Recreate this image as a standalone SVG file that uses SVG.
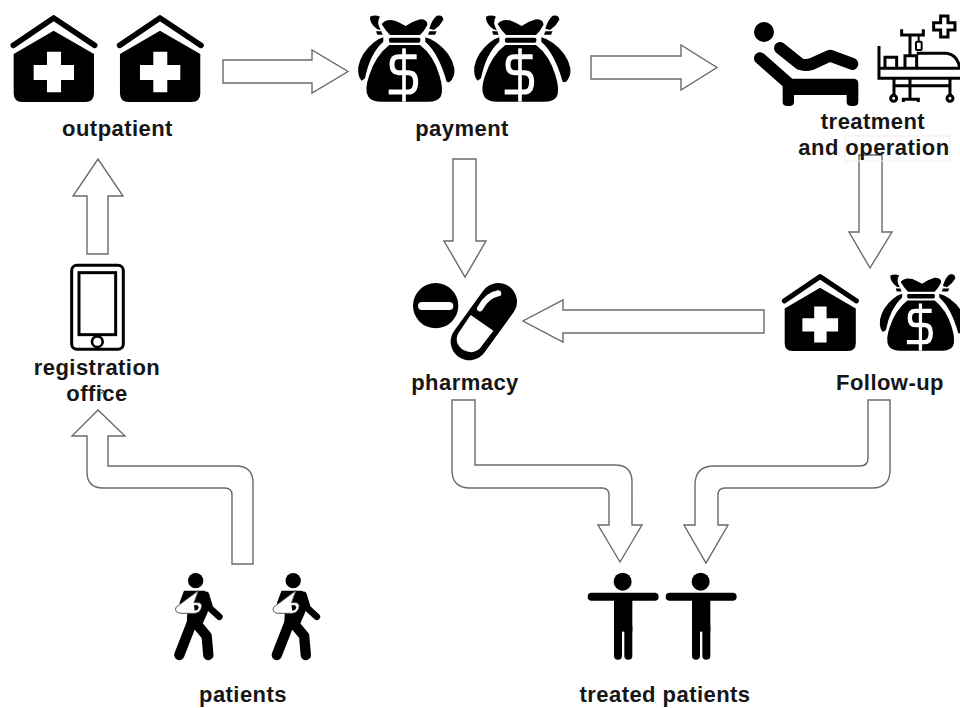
<svg xmlns="http://www.w3.org/2000/svg" width="960" height="708" viewBox="0 0 960 708">
<style>
.arrow{fill:#fff;stroke:#6a6a6a;stroke-width:1.4;stroke-linejoin:miter}
.lbl{font-family:"Liberation Sans",Arial,sans-serif;font-weight:700;font-size:22px;letter-spacing:.45px;fill:#161616;text-anchor:middle}
.k{fill:#000}
.w{fill:#fff}
.ks{fill:none;stroke:#000;stroke-linecap:round;stroke-linejoin:round}
.ws{fill:none;stroke:#fff}
</style>
<defs>
<g id="house">
<path class="ks" stroke-width="17" d="M40,136 L161,54 L284,136"/>
<path class="k" d="M41,162 L161,92 L282,162 V280 Q282,306 256,306 H67 Q41,306 41,280Z"/>
<path class="w" d="M141,155 H183 V195 H222 V240 H183 V277 H141 V240 H101 V195 H141Z"/>
</g>
<g id="bag">
<path class="k" d="M125,72 Q138,55 165,62 Q188,72 197,78 Q215,65 240,58 Q264,58 262,75 Q252,95 240,105 H150 Q135,90 125,72Z"/>
<rect class="k" x="147" y="113" width="94" height="15" rx="5"/>
<path class="k" d="M148,135 H240 Q280,165 298,225 Q312,270 302,290 Q292,305 265,305 H125 Q95,305 85,290 Q72,270 88,225 Q108,165 148,135Z"/>
<path class="k" d="M130,112 V125 Q90,160 75,235 L65,242 Q52,230 55,200 Q62,160 100,128 Q115,116 130,112Z"/>
<path class="k" d="M256,112 V125 Q296,160 320,245 L328,247 Q346,232 343,205 Q335,160 290,128 Q272,116 256,112Z"/>
<path class="k" d="M90,50 Q105,43 120,50 Q108,65 122,90 L112,88 Q88,70 90,50Z"/>
<path class="k" d="M268,86 Q275,60 290,47 Q310,43 310,60 Q300,78 282,90Z"/>
<path class="k" d="M108,94 H124 L128,104 H112Z M268,94 H290 L285,104 H264Z"/>
<path class="ws" stroke-width="15" d="M230,170 H175 Q156,170 156,193 Q156,218 175,218 H205 Q227,218 227,245 Q227,276 205,276 H146"/>
<path class="ws" stroke-width="11" d="M192,145 V305"/>
</g>
<g id="walker">
<circle class="k" cx="137" cy="62" r="23"/>
<path class="k" d="M102,92 H165 L178,140 L172,160 L155,198 H110 L112,155 L88,130Z"/>
<path class="ks" stroke-width="20" d="M168,105 L180,145 L208,170"/>
<path class="ks" stroke-width="31" d="M127,185 L88,285"/>
<path class="ks" stroke-width="31" d="M140,192 L170,228 L175,285"/>
<path fill="#fff" stroke="#555" stroke-width="3" stroke-linejoin="round" d="M145,92 L78,142 Q72,157 92,160 H135 Q155,157 155,135 Q150,125 140,128 L132,128Z"/>
<path class="k" d="M132,136 Q145,132 146,142 Q145,152 134,152Z"/>
</g>
<g id="person">
<circle class="k" cx="158" cy="65" r="27"/>
<path class="ks" stroke-width="24" d="M65,110 H254"/>
<rect class="k" x="132" y="100" width="55" height="115"/>
<path class="ks" stroke-width="24" d="M144,200 V287 M175,200 V287"/>
</g>
</defs>

<g id="connectors">
<path class="arrow" d="M223,60 H312 V50 L348,71.500 L312,93 V83 H223Z"/>
<path class="arrow" d="M591,56 H681 V45 L717,67.500 L681,90 V79 H591Z"/>
<path class="arrow" d="M108,254 H87 V196 H73 L98,159 L123,196 H108Z"/>
<path class="arrow" d="M453,159 H476 V241 H486 L465,277 L444,241 H453Z"/>
<path class="arrow" d="M859,155 H882 V232 H892 L870,268 L849,232 H859Z"/>
<path class="arrow" d="M764,310 V333 H563 V342 L523,321 L563,300 V310Z"/>
<path class="arrow" d="M253,564 V483 Q253,466 236,466 H108 V436 H125 L98,410 L72,436 H87 V472 Q87,488 103,488 H225 Q232,488 232,495 V564Z"/>
<path class="arrow" d="M452,400 H475 V465 H615 Q632,465 632,482 V525 H642 L620,562 L598,525 H609 V495 Q609,488 602,488 H470 Q452,488 452,470Z"/>
<path class="arrow" d="M868,400 H890 V470 Q890,488 872,488 H725 Q718,488 718,495 V525 H728 L706,563 L684,525 H695 V485 Q695,466 714,466 H860 Q868,466 868,458Z"/>
</g>

<g id="outpatient">
<use href="#house" transform="scale(.3333)"/>
<use href="#house" transform="translate(106.300,0) scale(.3333)"/>
<text class="lbl" x="117.500" y="136">outpatient</text>
</g>
<g id="payment">
<use href="#bag" transform="translate(340,0) scale(.3333)"/>
<use href="#bag" transform="translate(456,0) scale(.3333)"/>
<text class="lbl" x="462" y="136">payment</text>
</g>
<g id="treatment">
<g transform="translate(720,0) scale(.3333)">
<circle class="k" cx="132" cy="96" r="30"/>
<path class="ks" stroke-width="36" d="M180,144 L240,192 Q255,198 275,192 L330,167 L397,192"/>
<path class="ks" stroke-width="36" d="M120,175 L205,250"/>
<path class="k" d="M188,236 H400 Q415,236 415,251 V305 Q415,318 400,318 H395 Q380,318 380,305 V285 H222 V305 Q222,318 208,318 H202 Q188,318 188,305Z"/>
<g fill="none" stroke="#000" stroke-width="9">
<path d="M477,138 V235 H720 M477,205 H720"/>
<path d="M590,160 H680 Q712,164 720,205"/>
<path d="M495,202 V172 H530 V202 M555,202 V167 H590 V202"/>
<path d="M570,105 V167 M545,88 V105 H610 V88"/>
<path stroke-width="6" d="M596,105 V125"/>
<rect x="588" y="125" width="17" height="25" rx="3" stroke-width="6"/>
<path d="M662,48 H684 V68 H705 V90 H684 V111 H662 V90 H641 V68 H662Z"/>
<path d="M522,235 V286 M690,235 V286 M522,257 H690 M570,235 V298"/>
<path d="M550,306 V298 H595 V306"/>
<circle cx="521" cy="295" r="9"/>
<circle cx="690" cy="295" r="9"/>
</g>
</g>
<rect x="845" y="136" width="105" height="25" fill="none" stroke="#eeeeee" stroke-width="1"/>
<text class="lbl" x="873" y="129">treatment</text>
<text class="lbl" x="874" y="155">and operation</text>
</g>
<g id="registration-office">
<g transform="translate(20,250) scale(.3333)">
<rect x="155" y="46" width="155" height="252" rx="16" fill="#fff" stroke="#000" stroke-width="9"/>
<rect x="177" y="68" width="110" height="186" fill="none" stroke="#000" stroke-width="9"/>
<circle cx="232" cy="275" r="16" fill="#fff" stroke="#000" stroke-width="8"/>
</g>
<text class="lbl" x="97" y="375">registration</text>
<text class="lbl" x="97" y="401">office</text>
<path d="M99,389 L104,391 L100,394" fill="none" stroke="#333" stroke-width="1"/>
</g>
<g id="pharmacy">
<g transform="translate(400,260) scale(.3333)">
<circle class="k" cx="107" cy="137" r="68"/>
<rect class="w" x="54" y="126" width="106" height="24" rx="12"/>
<path class="ks" stroke-width="112" d="M295,125 L208,245"/>
<path class="w" d="M212,165 L280,212 L240,265 Q220,285 190,270 Q160,250 175,220Z"/>
<path class="ws" stroke-width="18" stroke-linecap="round" d="M240,145 Q262,105 295,100"/>
</g>
<text class="lbl" x="465" y="390">pharmacy</text>
</g>
<g id="follow-up">
<use href="#house" transform="translate(772.600,260.700) scale(.295)"/>
<use href="#bag" transform="translate(863.800,260.700) scale(.295)"/>
<text class="lbl" x="890" y="390">Follow-up</text>
</g>
<g id="patients">
<use href="#walker" transform="translate(150,560) scale(.3333)"/>
<use href="#walker" transform="translate(247.500,560) scale(.3333)"/>
<text class="lbl" x="243" y="702">patients</text>
</g>
<g id="treated-patients">
<use href="#person" transform="translate(570,560) scale(.3333)"/>
<use href="#person" transform="translate(648,560) scale(.3333)"/>
<text class="lbl" x="665" y="702">treated patients</text>
</g>
</svg>
